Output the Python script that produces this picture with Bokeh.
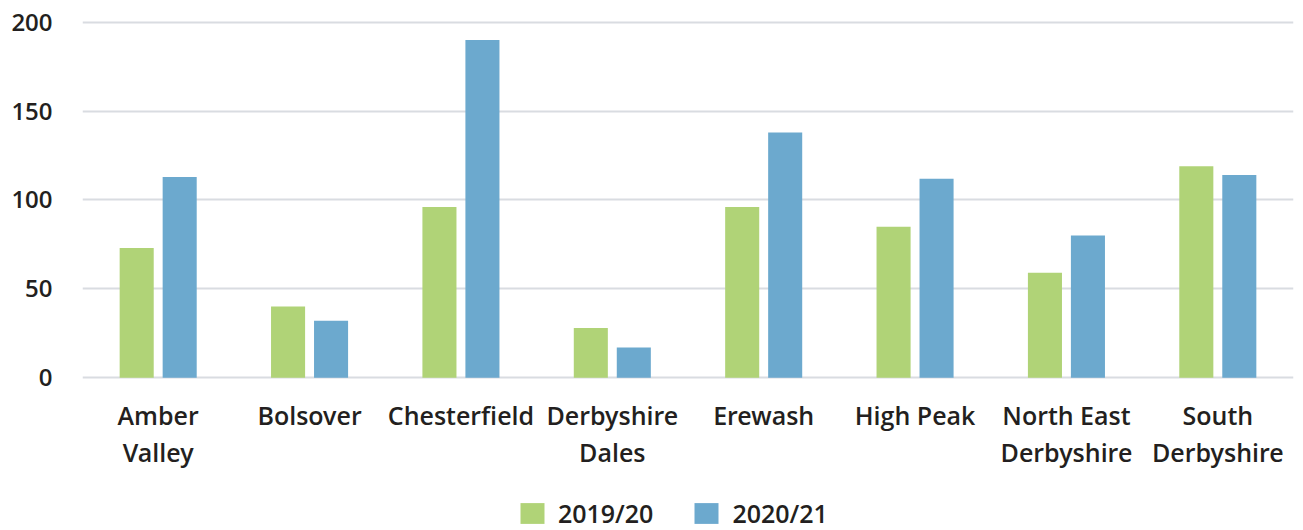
from bokeh.plotting import figure
from bokeh.models import FactorRange, Range1d, Legend, LegendItem, ColumnDataSource, FixedTicker
from bokeh.transform import dodge
from bokeh.embed import file_html
from bokeh.resources import INLINE

districts = ["Amber\nValley", "Bolsover", "Chesterfield", "Derbyshire\nDales", "Erewash",
             "High Peak", "North East\nDerbyshire", "South\nDerbyshire"]
y2019 = [73, 40, 96, 28, 96, 85, 59, 119]
y2020 = [113, 32, 190, 17, 138, 112, 80, 114]
series = ["2019/20", "2020/21"]
colors = ["#b0d377", "#6ca9ce"]
yticks = [0, 50, 100, 150, 200]

src = ColumnDataSource(dict(d=districts, a=y2019, b=y2020))

FONT = "Open Sans SemiBold"
TXT = "#231f20"

p = figure(x_range=FactorRange(*districts, range_padding=0), y_range=Range1d(-86, 201),
           frame_width=1211, frame_height=510, output_backend="svg", toolbar_location=None,
           min_border_left=82, min_border_right=10, min_border_top=20, min_border_bottom=0)
p.outline_line_color = None

r1 = p.vbar(x=dodge("d", -0.142, range=p.x_range), top="a", width=0.225, source=src,
            fill_color=colors[0], line_color=None)
r2 = p.vbar(x=dodge("d", 0.142, range=p.x_range), top="b", width=0.225, source=src,
            fill_color=colors[1], line_color=None)

p.yaxis.ticker = FixedTicker(ticks=yticks)
p.yaxis.axis_line_color = None
p.yaxis.major_tick_line_color = None
p.yaxis.minor_tick_line_color = None
p.yaxis.major_tick_out = 0
p.yaxis.major_tick_in = 0
p.yaxis.major_label_standoff = 30
p.yaxis.major_label_text_font = FONT
p.yaxis.major_label_text_font_size = "24px"
p.yaxis.major_label_text_color = TXT

p.xaxis.fixed_location = 0
p.xaxis.axis_line_color = None
p.xaxis.major_tick_line_color = None
p.xaxis.minor_tick_line_color = None
p.xaxis.major_tick_out = 0
p.xaxis.major_tick_in = 0
p.xaxis.major_label_standoff = 20
p.xaxis.major_label_text_font = FONT
p.xaxis.major_label_text_font_size = "25px"
p.xaxis.major_label_text_color = TXT
p.xaxis.major_label_text_line_height = 1.1

p.xgrid.grid_line_color = None
p.ygrid.grid_line_color = "#d9dce1"
p.ygrid.grid_line_width = 2

legend = Legend(items=[LegendItem(label=series[0], renderers=[r1]),
                       LegendItem(label=series[1], renderers=[r2])],
                orientation="horizontal", location=(435, 0),
                glyph_width=30, glyph_height=26, label_standoff=11, spacing=38,
                label_text_font=FONT, label_text_font_size="25px", label_text_color=TXT,
                border_line_color=None, background_fill_alpha=0, padding=0, margin=0)
p.add_layout(legend, "center")

open("out.html", "w").write(file_html(p, INLINE))
